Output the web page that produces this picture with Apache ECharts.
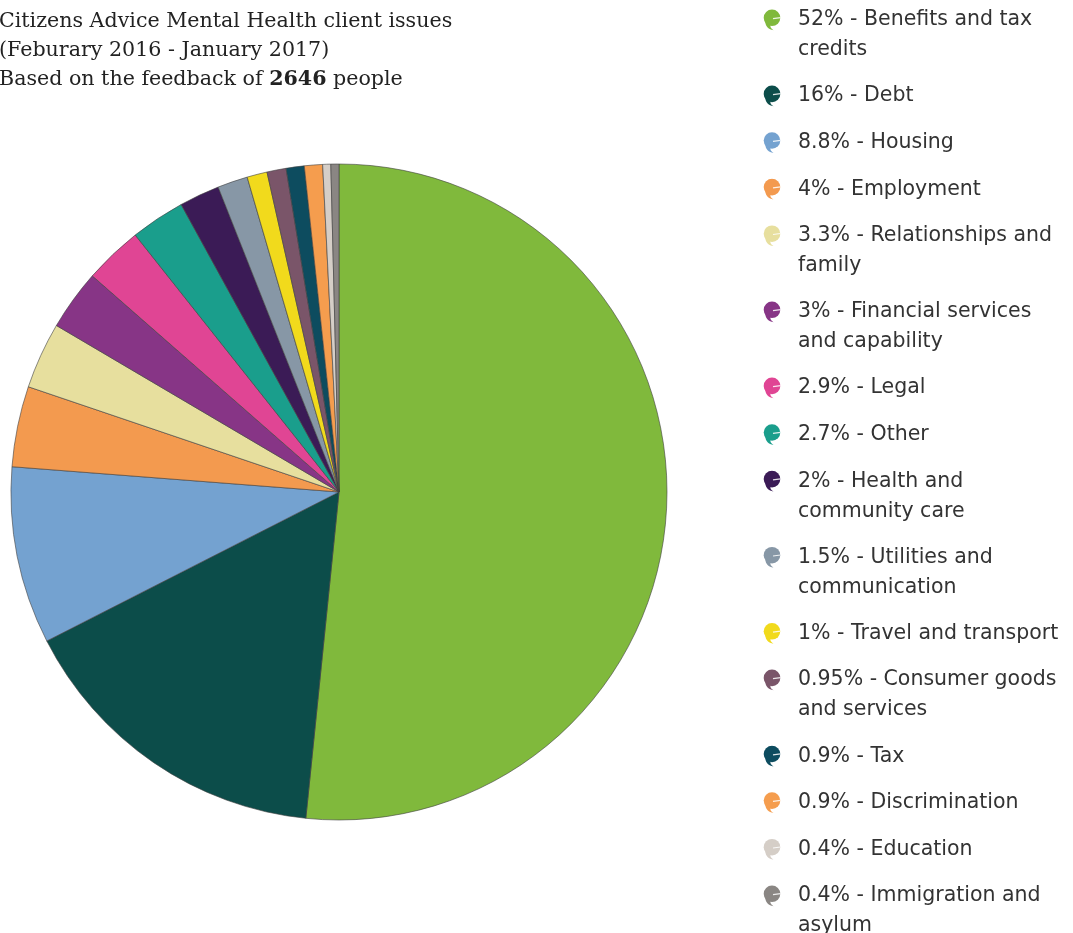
<!DOCTYPE html>
<html>
<head>
<meta charset="utf-8">
<script src="https://cdn.jsdelivr.net/npm/echarts@6/dist/echarts.min.js"></script>
<style>
  html, body { margin: 0; padding: 0; background: #ffffff; }
  #chart { width: 1073px; height: 933px; }
</style>
</head>
<body>
<div id="chart"></div>
<script>
// Issue categories, in clockwise order starting at 12 o'clock
const categories = [
  'Benefits and tax credits', 'Debt', 'Housing', 'Employment',
  'Relationships and family', 'Financial services and capability', 'Legal', 'Other',
  'Health and community care', 'Utilities and communication', 'Travel and transport',
  'Consumer goods and services', 'Tax', 'Discrimination', 'Education',
  'Immigration and asylum'
];

// Share of clients (%)
const shares = [52, 16, 8.8, 4, 3.3, 3, 2.9, 2.7, 2, 1.5, 1, 0.95, 0.9, 0.9, 0.4, 0.4];

// Legend wording, broken where the line wraps
const legendLabels = [
  'Benefits and tax\ncredits', 'Debt', 'Housing', 'Employment',
  'Relationships and\nfamily', 'Financial services\nand capability', 'Legal', 'Other',
  'Health and\ncommunity care', 'Utilities and\ncommunication', 'Travel and transport',
  'Consumer goods\nand services', 'Tax', 'Discrimination', 'Education',
  'Immigration and\nasylum'
];

const colors = [
  '#80b93c', '#0c4d4a', '#74a2d0', '#f39a4f',
  '#e7df9e', '#873586', '#e04594', '#1a9e8c',
  '#3b1b56', '#8797a6', '#f1da1c', '#7a5569',
  '#0d4c5f', '#f59d4e', '#d5cec7', '#8a8683'
];

const titleLines = [
  'Citizens Advice Mental Health client issues',
  '(Feburary 2016 - January 2017)'
];
const respondents = 2646;

// Speech-bubble marker used in the legend
function bubbleUri(color) {
  const svg =
    "<svg xmlns='http://www.w3.org/2000/svg' width='18' height='22' viewBox='0 0 18 22'>" +
    "<circle cx='9' cy='8.8' r='8.3' fill='" + color + "'/>" +
    "<path d='M2.2 12.5 C2.6 17.5 5.5 20.6 10.5 21.2 C7.6 19.3 7 17.6 7.6 16.6 Z' fill='" + color + "'/>" +
    "<path d='M10 9.6 L17.6 8.6' stroke='#ffffff' stroke-width='1.2' opacity='0.85'/>" +
    "</svg>";
  return 'data:image/svg+xml;charset=utf-8,' + encodeURIComponent(svg);
}

const rich = {
  t: { fontFamily: 'DejaVu Sans', fontSize: 20.5, lineHeight: 30, color: '#333333', padding: [0, 0, 0, 17] },
  sp: { width: 18, height: 30 }
};
colors.forEach((c, i) => {
  rich['ic' + i] = { width: 18, height: 22, lineHeight: 30, backgroundColor: { image: bubbleUri(c) } };
});

const legendText = {};
categories.forEach((name, i) => {
  const lines = (shares[i] + '% - ' + legendLabels[i]).split('\n');
  legendText[name] = lines.map((ln, k) =>
    (k === 0 ? '{ic' + i + '|}' : '{sp|}') + '{t|' + ln + '}'
  ).join('\n');
});

const chart = echarts.init(document.getElementById('chart'), null, { renderer: 'canvas' });

chart.setOption({
  backgroundColor: '#ffffff',
  animation: false,
  title: {
    left: -1,
    top: 7,
    padding: 0,
    text: '{a|' + titleLines[0] + '}\n{a|' + titleLines[1] + '}\n{a|Based on the feedback of }{b|' + respondents + '}{a| people}',
    textStyle: {
      fontWeight: 'normal',
      rich: {
        a: { fontFamily: 'DejaVu Serif', fontSize: 20.6, lineHeight: 29, color: '#222222', fontWeight: 'normal' },
        b: { fontFamily: 'DejaVu Serif', fontSize: 20.6, lineHeight: 29, color: '#222222', fontWeight: 'bold' }
      }
    }
  },
  legend: {
    orient: 'vertical',
    left: 756,
    top: 9,
    height: 1000,
    padding: 0,
    itemGap: 24.6,
    itemWidth: 1,
    itemHeight: 1,
    icon: 'rect',
    itemStyle: { opacity: 0 },
    selectedMode: false,
    data: categories,
    formatter: name => legendText[name],
    textStyle: { rich: rich }
  },
  series: [{
    type: 'pie',
    center: [339, 492],
    radius: [0, 328],
    startAngle: 90,
    clockwise: true,
    label: { show: false },
    labelLine: { show: false },
    emphasis: { disabled: true },
    itemStyle: { borderColor: '#3f3f3f', borderWidth: 0.6 },
    data: categories.map((name, i) => ({
      name: name,
      value: shares[i],
      itemStyle: { color: colors[i] }
    }))
  }]
});
</script>
</body>
</html>
